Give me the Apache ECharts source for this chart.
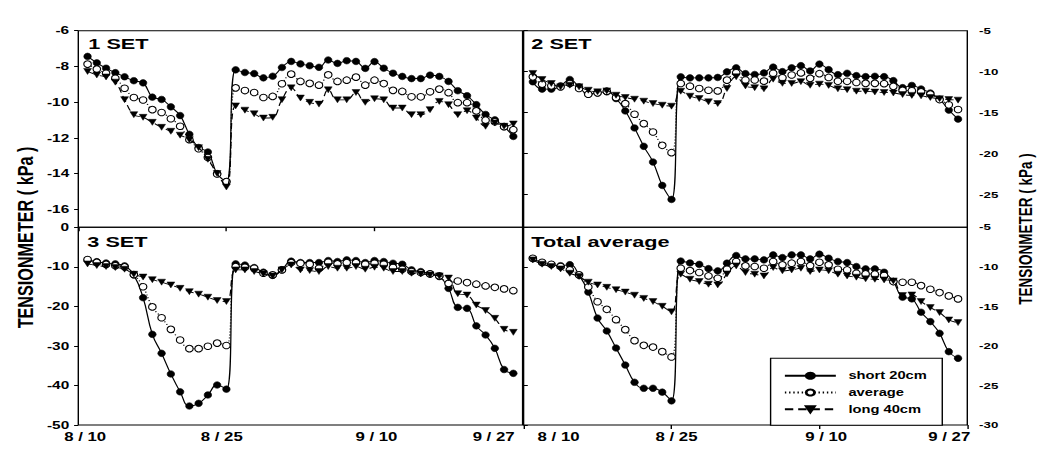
<!DOCTYPE html>
<html>
<head>
<meta charset="utf-8">
<script src="https://cdn.jsdelivr.net/npm/echarts@6/dist/echarts.min.js"></script>
<style>
html,body{margin:0;padding:0;background:#fff;overflow:hidden}
#wrap{width:1053px;height:454px;overflow:hidden;position:relative;background:#fff}
#chart{width:752.14px;height:454px;transform:scaleX(1.4);transform-origin:0 0}
</style>
</head>
<body>
<div id="wrap"><div id="chart"></div></div>
<script>
// ---------- data ----------
const days = [1,2,3,4,5,6,7,8,9,10,11,12,13,14,15,16,17,18,19,20,21,22,23,24,25,26,27,28,29,30,31,32,33,34,35,36,37,38,39,40,41,42,43,44,45,46,47];
const tickDays = [0,16,32,48];
const tickLabels = ['8 / 10','8 / 25','9 / 10','9 / 27'];
const seriesNames = ['short 20cm','average','long 40cm'];
const panelTitles = ['1 SET','2 SET','3 SET','Total average'];
const axisTitle = 'TENSIONMETER ( kPa )';

const yTicksSet1 = [-6,-8,-10,-12,-14,-16];
const yTicksSet2 = [-5,-10,-15,-20,-25];
const yTicksSet3 = [0,-10,-20,-30,-40,-50];
const yTicksTotal = [-5,-10,-15,-20,-25,-30];

const set1Short = [-7.44,-7.80,-8.10,-8.35,-8.58,-8.80,-8.92,-9.72,-9.85,-10.26,-10.75,-11.80,-12.54,-12.79,-14.00,-14.45,-8.19,-8.34,-8.40,-8.64,-8.55,-8.06,-7.72,-7.86,-7.96,-8.05,-7.64,-7.83,-7.68,-7.72,-8.11,-7.73,-8.10,-8.38,-8.56,-8.68,-8.68,-8.49,-8.56,-8.84,-9.36,-9.64,-10.14,-10.69,-10.99,-11.37,-11.92];
const set1Avg = [-7.87,-8.15,-8.38,-8.66,-9.22,-9.74,-9.88,-10.42,-10.58,-10.93,-11.35,-12.10,-12.61,-13.10,-14.02,-14.45,-9.20,-9.35,-9.46,-9.74,-9.68,-8.97,-8.43,-8.84,-8.95,-9.05,-8.47,-8.84,-8.77,-8.60,-9.05,-8.77,-8.96,-9.34,-9.40,-9.70,-9.70,-9.42,-9.27,-9.47,-10.03,-10.03,-10.49,-11.01,-11.10,-11.37,-11.54];
const set1Long = [-8.28,-8.48,-8.59,-8.88,-9.86,-10.70,-10.85,-11.13,-11.41,-11.63,-11.85,-12.10,-12.55,-13.20,-14.00,-14.75,-10.21,-10.45,-10.65,-10.89,-10.85,-9.86,-9.20,-9.77,-10.01,-10.11,-9.31,-9.87,-9.87,-9.46,-10.01,-9.81,-9.87,-10.33,-10.33,-10.70,-10.70,-10.42,-9.96,-10.14,-10.70,-10.48,-10.89,-11.35,-11.17,-11.35,-11.22];

const set2Short = [-11.24,-12.14,-12.14,-11.73,-10.96,-11.86,-12.76,-12.59,-12.47,-13.29,-14.80,-16.88,-19.12,-21.04,-23.90,-25.61,-10.63,-10.76,-10.76,-10.76,-10.71,-10.02,-9.53,-10.25,-10.35,-10.16,-9.45,-10.00,-9.53,-9.27,-9.92,-9.08,-9.76,-10.37,-10.20,-10.49,-10.61,-10.57,-10.61,-11.10,-11.96,-11.69,-12.12,-12.61,-13.37,-14.70,-15.80];
const set2Avg = [-10.63,-11.53,-11.73,-11.86,-11.45,-12.06,-12.76,-12.59,-12.39,-13.16,-13.90,-15.20,-16.35,-17.37,-19.00,-19.90,-11.45,-11.78,-12.06,-12.27,-12.35,-11.04,-10.14,-11.02,-11.02,-11.16,-10.20,-10.75,-10.41,-10.16,-10.82,-10.25,-10.71,-11.18,-11.18,-11.33,-11.43,-11.43,-11.47,-11.80,-12.29,-12.33,-12.47,-12.74,-13.41,-14.05,-14.62];
const set2Long = [-10.22,-10.96,-11.45,-11.86,-11.65,-11.86,-12.27,-12.47,-12.35,-12.88,-13.16,-13.37,-13.61,-13.90,-14.10,-14.22,-12.39,-13.00,-13.29,-13.69,-13.90,-12.06,-10.63,-11.74,-11.96,-12.10,-10.92,-11.43,-11.44,-11.22,-11.67,-11.53,-11.68,-12.10,-12.20,-12.39,-12.39,-12.49,-12.55,-12.61,-12.80,-12.90,-12.96,-13.16,-13.31,-13.41,-13.48];

const set3Short = [-8.30,-8.72,-9.05,-9.27,-9.78,-12.09,-17.82,-27.08,-31.88,-37.11,-41.61,-45.20,-44.52,-42.41,-39.89,-40.95,-9.27,-9.57,-10.20,-11.37,-12.18,-10.74,-8.59,-8.93,-8.94,-8.94,-8.43,-8.68,-8.26,-8.43,-8.94,-8.43,-8.68,-9.11,-9.36,-10.79,-11.21,-11.80,-12.48,-15.46,-20.27,-20.52,-24.94,-27.25,-30.62,-35.98,-36.94];
const set3Avg = [-8.16,-8.90,-9.40,-9.75,-10.02,-11.95,-15.05,-20.15,-22.88,-25.82,-28.52,-30.70,-30.70,-30.10,-29.30,-29.90,-9.95,-10.12,-10.37,-11.64,-12.06,-10.79,-8.94,-9.11,-9.36,-10.37,-8.85,-9.27,-8.94,-8.94,-9.36,-9.11,-9.36,-10.20,-10.62,-11.21,-11.47,-11.80,-12.31,-14.20,-13.60,-14.00,-14.40,-14.85,-15.20,-15.60,-16.05];
const set3Long = [-9.28,-9.70,-9.95,-10.20,-10.62,-11.90,-12.60,-13.27,-13.90,-14.60,-15.46,-16.30,-16.93,-17.70,-18.54,-18.80,-10.79,-10.79,-11.21,-11.80,-12.31,-10.79,-9.53,-10.79,-10.96,-11.21,-9.95,-10.37,-10.37,-9.95,-10.62,-10.12,-10.37,-11.21,-11.21,-11.64,-11.80,-12.06,-12.31,-12.85,-16.80,-17.15,-19.68,-21.06,-23.04,-25.82,-26.58];

const totalShort = [-8.98,-9.49,-9.74,-9.87,-9.74,-11.05,-13.20,-16.48,-18.12,-20.27,-22.42,-24.60,-25.36,-25.36,-25.85,-26.95,-9.28,-9.52,-9.70,-10.24,-10.52,-9.55,-8.58,-9.01,-9.01,-9.13,-8.50,-8.84,-8.50,-8.50,-9.01,-8.41,-8.92,-9.34,-9.47,-9.97,-10.27,-10.27,-10.69,-11.87,-13.85,-14.06,-15.75,-16.93,-18.41,-20.73,-21.57];
const totalAvg = [-8.92,-9.43,-9.68,-9.97,-10.40,-11.03,-12.55,-14.42,-15.38,-16.69,-17.95,-19.34,-19.93,-20.15,-20.73,-21.40,-10.19,-10.48,-10.73,-11.16,-11.45,-10.31,-9.34,-9.89,-9.97,-10.19,-9.34,-9.76,-9.55,-9.34,-9.85,-9.43,-9.76,-10.31,-10.40,-10.82,-10.90,-10.94,-11.11,-11.87,-11.96,-11.96,-12.38,-12.84,-13.26,-13.68,-14.06];
const totalLong = [-9.13,-9.68,-9.97,-10.27,-10.82,-11.24,-11.95,-12.30,-12.60,-12.90,-13.20,-13.60,-14.00,-14.40,-15.00,-15.70,-10.94,-11.58,-11.87,-12.21,-12.29,-10.90,-9.89,-10.73,-10.94,-11.16,-10.10,-10.52,-10.40,-10.19,-10.61,-10.40,-10.52,-10.94,-11.16,-11.32,-11.53,-11.58,-11.66,-11.79,-13.64,-13.56,-14.40,-15.16,-15.79,-16.72,-17.06];

// ---------- layout (unscaled coordinates; page is stretched horizontally by S) ----------
const S = 1.4;
const X0 = 78.3 / S, XM = 522.6 / S, XM2 = 523.6 / S, X1 = 967.3 / S;
const Y0 = 30.7, YM = 227.2, Y1 = 425;
const FONT = 'Liberation Sans, Arial, sans-serif';

const grids = [
  {left: X0, top: Y0, width: XM - X0, height: YM - Y0},
  {left: XM2, top: Y0, width: X1 - XM2, height: YM - Y0},
  {left: X0, top: YM, width: XM - X0, height: Y1 - YM},
  {left: XM2, top: YM, width: X1 - XM2, height: Y1 - YM}
].map(g => Object.assign({show: true, borderColor: '#000', borderWidth: 1, backgroundColor: 'transparent'}, g));

// label shifts (unscaled px) for x tick labels of the bottom panels
const shiftLeft = [4.9, -3.3, 1.4, -20.7];
const shiftRight = [25, 3.6, 4.8, -12.9];
function makeRich(shifts) {
  const r = {};
  shifts.forEach((s, i) => {
    r['a' + i] = {
      fontFamily: FONT, fontWeight: 'bold', fontSize: 12, color: '#000',
      padding: s >= 0 ? [0, 0, 0, 2 * s] : [0, -2 * s, 0, 0]
    };
  });
  return r;
}
function fmtX(v) {
  const i = tickDays.indexOf(v);
  return i < 0 ? '' : '{a' + i + '|' + tickLabels[i] + '}';
}

function xAxisFor(gi, bottom, shifts) {
  const ax = {
    gridIndex: gi, type: 'value', min: 0, max: 48,
    axisLine: {show: false}, splitLine: {show: false}
  };
  if (bottom) {
    ax.axisTick = {show: true, inside: false, length: 4, customValues: tickDays, lineStyle: {color: '#000', width: 1}};
    ax.axisLabel = {show: true, customValues: tickDays, margin: 6, formatter: fmtX, rich: makeRich(shifts),
      fontFamily: FONT, fontWeight: 'bold', fontSize: 12, color: '#000'};
  } else {
    ax.axisTick = {show: false};
    ax.axisLabel = {show: false};
  }
  return ax;
}
function yAxisFor(gi, min, max, ticks, right) {
  return {
    gridIndex: gi, type: 'value', min: min, max: max, position: right ? 'right' : 'left',
    axisLine: {show: false}, splitLine: {show: false},
    axisTick: {show: true, inside: false, length: 3, customValues: ticks, lineStyle: {color: '#000', width: 1}},
    axisLabel: {show: true, customValues: ticks, margin: right ? 8.4 : 6.5,
      fontFamily: FONT, fontWeight: 'bold', fontSize: right ? 9.5 : 11, color: '#000'}
  };
}

function mk(arr) { return days.map((d, i) => [d, arr[i]]); }
const styles = [
  {symbol: 'circle', symbolSize: [5.4, 6.6], symbolRotate: 0,
   itemStyle: {color: '#000', borderColor: '#000', borderWidth: 0.5},
   lineStyle: {color: '#000', width: 0.9, type: 'solid'}},
  {symbol: 'circle', symbolSize: [5.4, 6.6], symbolRotate: 0,
   itemStyle: {color: '#fff', borderColor: '#000', borderWidth: 0.9},
   lineStyle: {color: '#000', width: 1, type: [1, 2]}},
  {symbol: 'triangle', symbolSize: [5.6, 6], symbolRotate: 180,
   itemStyle: {color: '#000', borderColor: '#000', borderWidth: 0.4},
   lineStyle: {color: '#000', width: 0.9, type: [6, 3.5]}}
];
const panels = [
  [set1Short, set1Avg, set1Long],
  [set2Short, set2Avg, set2Long],
  [set3Short, set3Avg, set3Long],
  [totalShort, totalAvg, totalLong]
];
const drawOrder = [0, 2, 1];
const series = [];
panels.forEach((p, gi) => {
  drawOrder.forEach(k => {
    const st = styles[k];
    series.push({
      type: 'line', name: seriesNames[k], xAxisIndex: gi, yAxisIndex: gi,
      data: mk(p[k]), smooth: 0.45,
      symbol: st.symbol, symbolSize: st.symbolSize, symbolRotate: st.symbolRotate,
      showAllSymbol: true, itemStyle: st.itemStyle, lineStyle: st.lineStyle,
      emphasis: {disabled: true}, z: 2 + k, silent: true
    });
  });
});

const titleStyle = {fontFamily: FONT, fontWeight: 'bold', fontSize: 15.5, fill: '#000'};
const titlePos = [[88.3 / S, 44], [531.3 / S, 44], [87.3 / S, 241.5], [531.3 / S, 241.5]];
const graphics = panelTitles.map((t, i) => ({
  type: 'text', x: titlePos[i][0], y: titlePos[i][1], silent: true,
  style: Object.assign({text: t, textAlign: 'left', textVerticalAlign: 'middle'}, titleStyle)
}));
graphics.push({
  type: 'text', x: 24.5 / S, y: 237.5, rotation: Math.PI / 2, silent: true,
  style: {text: axisTitle, textAlign: 'center', textVerticalAlign: 'middle', fontFamily: FONT, fontWeight: 'bold', fontSize: 16.2, fill: '#000'}
});
graphics.push({
  type: 'text', x: 1025 / S, y: 229, rotation: Math.PI / 2, silent: true,
  style: {text: axisTitle, textAlign: 'center', textVerticalAlign: 'middle', fontFamily: FONT, fontWeight: 'bold', fontSize: 13.5, fill: '#000'}
});

const option = {
  animation: false,
  backgroundColor: '#fff',
  grid: grids,
  xAxis: [xAxisFor(0, false), xAxisFor(1, false), xAxisFor(2, true, shiftLeft), xAxisFor(3, true, shiftRight)],
  yAxis: [
    yAxisFor(0, -17, -6, yTicksSet1, false),
    yAxisFor(1, -29, -5, yTicksSet2, true),
    yAxisFor(2, -50, 0, yTicksSet3, false),
    yAxisFor(3, -30, -5, yTicksTotal, true)
  ],
  legend: {
    show: true, orient: 'vertical', left: 770.6 / S, top: 358.3,
    padding: [11.9, 11, 10.5, 9.2],
    itemWidth: 36.4, itemHeight: 7.5, itemGap: 5.8,
    borderColor: '#000', borderWidth: 1, backgroundColor: '#fff',
    selectedMode: false,
    textStyle: {fontFamily: FONT, fontWeight: 'bold', fontSize: 10.5, color: '#000', padding: [0, 0, 0, 4]},
    data: seriesNames
  },
  graphic: graphics,
  series: series
};

const chart = echarts.init(document.getElementById('chart'), null, {renderer: 'svg'});
chart.setOption(option);
</script>
</body>
</html>
